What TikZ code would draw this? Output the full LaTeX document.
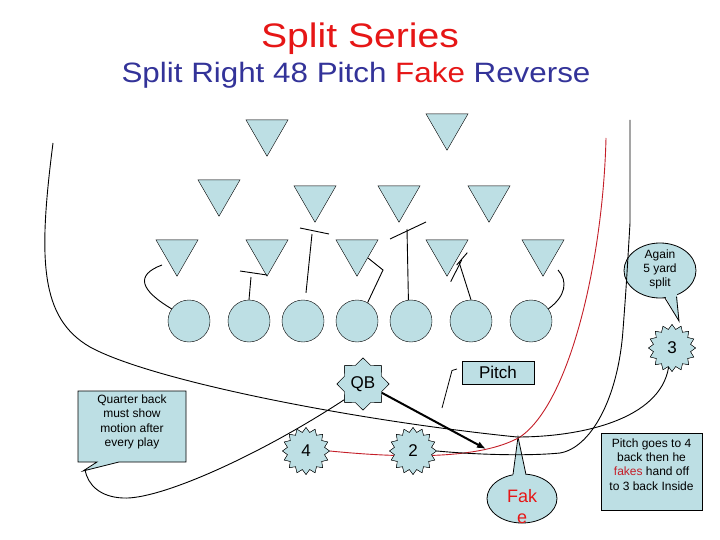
\documentclass[tikz,border=0pt]{standalone}
\usepackage{fontspec}
\setmainfont{Liberation Sans}
\usetikzlibrary{shapes.geometric,arrows.meta,calc}
\definecolor{pb}{RGB}{189,223,228}
\definecolor{tred}{RGB}{230,22,22}
\definecolor{tblue}{RGB}{51,51,153}
\definecolor{lred}{RGB}{196,30,40}
\begin{document}
\begin{tikzpicture}[x=1pt,y=-1pt,
  defn/.style={regular polygon, regular polygon sides=3, shape border rotate=180, draw, fill=pb, minimum size=48.5pt, inner sep=0pt},
  offn/.style={circle, draw, fill=pb, minimum size=42pt, inner sep=0pt},
  bstar/.style={star, star points=16, star point ratio=1.25, draw, fill=pb, minimum size=47pt, inner sep=0pt, font=\fontsize{17}{17}\selectfont},
  qbstar/.style={star, star points=8, star point ratio=1.3, draw, fill=pb, minimum size=52pt, inner sep=0pt, font=\fontsize{17}{17}\selectfont},
  route/.style={line width=0.9pt},
  blk/.style={line width=0.9pt},
  small/.style={font=\fontsize{12}{14.3}\selectfont, align=center, inner sep=0pt}
]
\useasboundingbox (0,0) rectangle (720,540);
\fill[white] (0,0) rectangle (720,540);

% titles
\node[anchor=base, text=tred, font=\fontsize{34}{34}\selectfont, inner sep=0pt] (title) at (360,48) {\scalebox{1.15}[1]{Split Series}};
\node[anchor=base, text=tblue, font=\fontsize{28}{28}\selectfont, inner sep=0pt] (sub) at (356,83) {\scalebox{1.12}[1]{Split Right 48 Pitch \textcolor{tred}{Fake} Reverse}};

% callouts drawn below the routes
\draw[fill=pb, line width=0.8pt] (660,270.5) ellipse [x radius=36, y radius=27.5];
\fill[pb] (664,294) -- (679,321) -- (677,293) -- cycle;
\draw[line width=0.8pt] (664.5,297.3) -- (679,321) coordinate (againtip) -- (676.5,296.6);
\node[small] (again) at (660,269.5) {Again\\5 yard\\split};

\draw[fill=pb, line width=0.8pt] (522,498.5) ellipse [x radius=35, y radius=24.5];
\fill[pb] (513,476) -- (518,437) -- (526,476) -- cycle;
\draw[line width=0.8pt] (513,474.5) -- (518,437) coordinate (faketip) -- (526,474.6);
\node[text=tred, font=\fontsize{18}{18}\selectfont, anchor=base, inner sep=0pt] (fake1) at (522,502) {Fak};
\node[text=tred, font=\fontsize{18}{18}\selectfont, anchor=base, inner sep=0pt] (fake2) at (522,523) {e};

\draw[fill=pb, line width=0.8pt] (78,391) -- (186,391) -- (186,462) -- (119,462) -- (83,471) -- (97,462) -- (78,462) -- cycle;
\coordinate (qbtip) at (85,470);
\node[small] (qbnote) at (132,422) {Quarter back\\must show\\motion after\\every play};

\node[draw, fill=pb, line width=0.8pt, minimum width=101pt, minimum height=77pt, inner sep=0pt] (note2) at (651.5,471.5) {};
\node[small] (note2txt) at (651.5,464.5) {Pitch goes to 4\\back then he\\\textcolor{lred}{fakes} hand off\\to 3 back Inside};

\node[draw, fill=pb, line width=0.8pt, minimum width=72pt, minimum height=23pt, inner sep=0pt, font=\fontsize{17}{17}\selectfont] (pitch) at (498,372.5) {Pitch};
\coordinate (pc1) at (457,369);
\coordinate (pc2) at (452,370.5);
\coordinate (pc3) at (442,408);
\draw[line width=0.8pt] (pc1) -- (pc2) -- (pc3);

% defenders
\node[defn] (d1) at (267,132) {};
\node[defn] (d2) at (447,126) {};
\node[defn] (d3) at (219,192) {};
\node[defn] (d4) at (315,198) {};
\node[defn] (d5) at (399,198) {};
\node[defn] (d6) at (489,198) {};
\node[defn] (d7) at (177,252) {};
\node[defn] (d8) at (267,252) {};
\node[defn] (d9) at (357,252) {};
\node[defn] (d10) at (447,252) {};
\node[defn] (d11) at (543,252) {};

% offensive line
\foreach \i/\x in {1/189,2/249,3/303,4/357,5/411,6/471,7/531}
  \node[offn] (o\i) at (\x,321) {};

% backs
\node[qbstar] (qb) at (363,384) {QB};
\node[bstar] (four) at (306,451) {4};
\node[bstar] (two) at (413,451) {2};
\node[bstar] (three) at (672,348) {3};

% blocking lines
\coordinate (b1) at (162,265);
\draw[blk] (o1.145) .. controls (140,290) and (135,275) .. (b1);
\coordinate (b2) at (251,277);
\draw[blk] (o2.north) -- (b2);
\draw[blk] (240,271) -- (267,275);
\coordinate (b3) at (312,234);
\draw[blk] ($(o3.north)+(3,-7)$) -- (b3);
\draw[blk] (300,228) -- (329,234);
\coordinate (b4a) at (383,270);
\coordinate (b4b) at (368,258);
\draw[blk] (o4.60) -- (b4a) -- (b4b);
\coordinate (b5) at (407,229);
\draw[blk] (o5.97) -- (b5);
\draw[blk] (390,239) -- (426,222);
\coordinate (b6) at (459,262);
\draw[blk] (o6.north) -- (b6);
\draw[blk] (450.7,281.7) -- (461.7,260);
\draw[blk] (456.7,265) -- (467.3,252.7);
\coordinate (b7) at (558,270);
\draw[blk] (o7.35) .. controls (566,296) and (568,281) .. (b7);

% routes
\coordinate (redend) at (606,138);
\draw[route, lred] (four.east) .. controls (400,458) and (480,460) .. (520,437)
   .. controls (570,403) and (603,260) .. (redend);

\coordinate (twoend) at (630,120);
\draw[route] (two.east) .. controls (480,455) and (530,456) .. (560,453)
   .. controls (590,448) and (618,400) .. (623,330)
   .. controls (626,290) .. (630,223) -- (twoend);

\coordinate (threeend) at (53,143);
\draw[route] (three.-100) .. controls (660,420) and (580,437) .. (517,437)
   .. controls (350,420) and (150,380) .. (90,347)
   .. controls (40,318) and (38,260) .. (threeend);

\draw[route] (qb.-140) .. controls (260,455) and (160,500) .. (123,498)
   .. controls (100,497) and (88,485) .. (qbtip);

\coordinate (pitchpt) at (486,449);
\draw[line width=2pt, -{Latex[length=9pt,width=7pt]}] (qb.-25) -- (pitchpt);

% redraw backs on top
\node[qbstar] at (qb) {QB};
\node[bstar] at (four) {4};
\node[bstar] at (two) {2};
\node[bstar] at (three) {3};
\end{tikzpicture}
\end{document}
